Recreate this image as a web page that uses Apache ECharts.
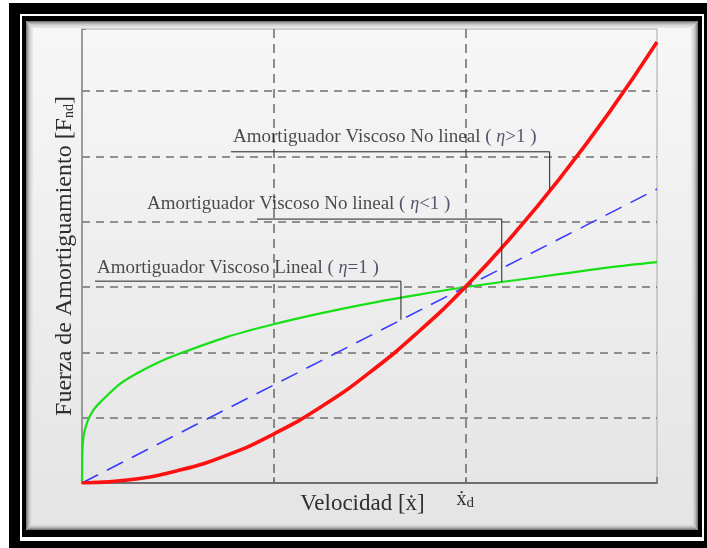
<!DOCTYPE html>
<html>
<head>
<meta charset="utf-8">
<script src="https://cdn.jsdelivr.net/npm/echarts@6/dist/echarts.min.js"></script>
<style>
html,body{margin:0;padding:0;background:#fff;}
#c{width:707px;height:548px;}
</style>
</head>
<body>
<div id="c"></div>
<script>
// ---- data ----
var redNL = [[0,0],[0.25,0.05],[0.5,0.19],[0.75,0.42],[1,0.75],[1.25,1.17],[1.5,1.69],[1.75,2.3],[2,3],[2.25,3.8],[2.5,4.69],[2.75,5.67],[3,6.75]];
var blueLin = [[0,0],[1,1.5],[2,3],[3,4.5]];
var greenNL = [[0,0],[0.003,0.55],[0.01,0.75],[0.03,0.95],[0.06,1.12],[0.1,1.25],[0.2,1.52],[0.3,1.7],[0.4,1.85],[0.5,1.97],[0.75,2.23],[1,2.43],[1.25,2.6],[1.5,2.75],[1.75,2.88],[2,3.0],[2.25,3.1],[2.5,3.2],[2.75,3.3],[3,3.38]];
var xTickLabels = {2: '{a|ẋ}{b|d}'};
var yName = 'Fuerza de Amortiguamiento [F{s|nd}]';
var xName = 'Velocidad [ẋ]';
// annotation leaders (data coords) and label anchors
var leaderGt = [[0.777,5.07],[2.44,5.07],[2.44,4.49]];
var leaderLt = [[0.913,4.04],[2.19,4.04],[2.19,3.08]];
var leaderEq = [[0.068,3.09],[1.664,3.09],[1.664,2.50]];
var labelGt = {pos:[0.788,5.30], text:'{t|Amortiguador Viscoso No lineal }{p|( }{e|η}{p|>1 )}'};
var labelLt = {pos:[0.339,4.27], text:'{t|Amortiguador Viscoso No lineal }{p|( }{e|η}{p|<1 )}'};
var labelEq = {pos:[0.078,3.29], text:'{t|Amortiguador Viscoso Lineal }{p|( }{e|η}{p|=1 )}'};

var SERIF = '"Liberation Serif","DejaVu Serif",serif';
var chart = echarts.init(document.getElementById('c'), null, {renderer:'canvas'});

function shadeRects(){
  var els = [];
  var cols = ['#7a7a7a','#9a9a9a','#b4b4b4','#c8c8c8','#d6d6d6','#e0e0e0','#e6e6e6'];
  for (var i=0;i<cols.length;i++){
    els.push({type:'rect', z:-5+i*0.01, silent:true,
      shape:{x:26+i+0.5, y:21+i+0.5, width:672-2*i-1, height:509-2*i-1},
      style:{fill:null, stroke:cols[i], lineWidth:1}});
  }
  return els;
}

var richAnn = {
  t:{fontFamily:SERIF, fontSize:19, color:'#1e1e1e'},
  p:{fontFamily:SERIF, fontSize:19, color:'#2c2c4a'},
  e:{fontFamily:SERIF, fontSize:18, fontStyle:'italic', color:'#2c2c4a'}
};
function annLabel(l){
  return {type:'scatter', symbolSize:0, silent:true, z:5, data:[l.pos],
    label:{show:true, position:'right', distance:0, formatter:l.text, rich:richAnn}};
}
function leader(d){
  return {type:'line', data:d, symbol:'none', silent:true, z:4,
    lineStyle:{color:'#222', width:1}};
}

chart.setOption({
  animation:false,
  backgroundColor:'#ffffff',
  graphic:{
    z:-10,
    elements:[
      {type:'rect', z:-10, silent:true, shape:{x:9,y:3,width:698,height:545}, style:{fill:'#000'}},
      {type:'rect', z:-9, silent:true, shape:{x:20,y:14,width:684,height:527}, style:{fill:'#fff'}},
      {type:'rect', z:-8, silent:true, shape:{x:22,y:16,width:680,height:521}, style:{fill:'#000'}},
      {type:'rect', z:-7, silent:true, shape:{x:26,y:21,width:672,height:509},
        style:{fill:new echarts.graphic.LinearGradient(0,0,0,1,[{offset:0,color:'#f7f7f7'},{offset:1,color:'#e4e4e4'}])}}
    ].concat(shadeRects())
  },
  grid:{left:82, right:50, top:29, bottom:65, show:true, borderColor:'#a8a8a8', borderWidth:1, backgroundColor:'transparent'},
  xAxis:{
    type:'value', min:0, max:3, interval:1,
    name:xName, nameLocation:'middle', nameGap:9, nameMoveOverlap:false,
    nameTextStyle:{fontFamily:SERIF, fontSize:23, color:'#2e2e2e', padding:[0,14,0,0]},
    axisLine:{show:true, lineStyle:{color:'#707070', width:2}},
    axisTick:{show:true, inside:true, length:6, lineStyle:{color:'#707070', width:1.5}},
    axisLabel:{show:true, margin:5, formatter:function(v){return xTickLabels[v]||'';},
      rich:{a:{fontFamily:SERIF, fontSize:20, color:'#2e2e2e'}, b:{fontFamily:SERIF, fontSize:15, color:'#2e2e2e', padding:[8,0,0,0]}}},
    splitLine:{show:true, showMinLine:false, showMaxLine:false, lineStyle:{color:'#6a6a6a', width:1.5, type:[9,6]}}
  },
  yAxis:{
    type:'value', min:0, max:6.95, interval:1,
    name:yName, nameLocation:'middle', nameGap:5, nameRotate:90, nameMoveOverlap:false,
    nameTextStyle:{fontFamily:SERIF, fontSize:24, color:'#2e2e2e', rich:{s:{fontFamily:SERIF, fontSize:14, color:'#2e2e2e', padding:[9,0,0,0]}}},
    axisLine:{show:true, lineStyle:{color:'#8a8a8a', width:1.5}},
    axisTick:{show:true, inside:true, length:4, lineStyle:{color:'#8a8a8a'}},
    axisLabel:{show:false},
    splitLine:{show:true, showMinLine:false, showMaxLine:false, lineStyle:{color:'#707070', width:1.5, type:[8,6]}}
  },
  series:[
    {name:'green', type:'line', data:greenNL, symbol:'none', smooth:0.3, z:3, lineStyle:{color:'#16e016', width:2.2}},
    {name:'blue', type:'line', data:blueLin, symbol:'none', z:3, lineStyle:{color:'#3a3aff', width:1.6, type:[18,10]}},
    {name:'red', type:'line', data:redNL, symbol:'none', smooth:true, z:3, lineStyle:{color:'#ff1010', width:3.6}},
    leader(leaderGt), leader(leaderLt), leader(leaderEq),
    annLabel(labelGt), annLabel(labelLt), annLabel(labelEq)
  ]
});
</script>
</body>
</html>
